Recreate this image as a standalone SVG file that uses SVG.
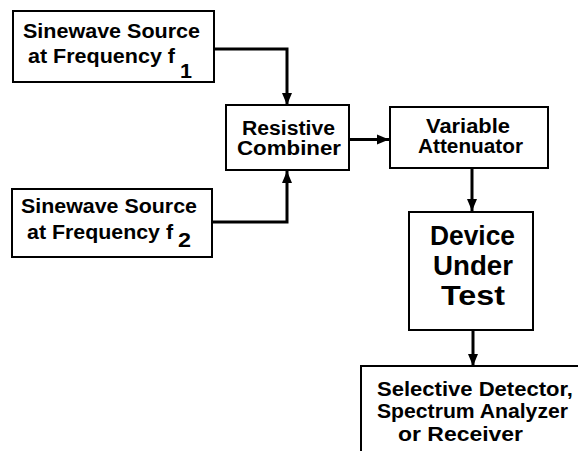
<svg xmlns="http://www.w3.org/2000/svg" width="578" height="451" viewBox="0 0 578 451">
<style>
.box{fill:#fff;stroke:#000;stroke-width:2}
.t{font-family:"Liberation Sans",Arial,sans-serif;font-weight:bold;font-size:20px;fill:#000}
.big{font-size:27px}
.sub{font-size:21px}
.c{fill:none;stroke:#000;stroke-width:3}
</style>
<defs>
<marker id="ah" markerUnits="userSpaceOnUse" markerWidth="13" markerHeight="13" viewBox="0 0 13 13" refX="12" refY="6.5" orient="auto">
<path d="M0,1.5 L12,6.5 L0,11.5 Z" fill="#000"/>
</marker>
</defs>
<rect width="578" height="451" fill="#fff"/>
<g id="connectors">
<path class="c" d="M214,49 H287 V105" marker-end="url(#ah)"/>
<path class="c" d="M212,222 H287 V171" marker-end="url(#ah)"/>
<path class="c" d="M349,139.5 H389" marker-end="url(#ah)"/>
<path class="c" d="M472,168 V211" marker-end="url(#ah)"/>
<path class="c" d="M473,330 V366" marker-end="url(#ah)"/>
</g>
<g id="src1">
<rect class="box" x="13" y="11" width="201" height="71"/>
<text class="t" x="23" y="38" textLength="177" lengthAdjust="spacingAndGlyphs">Sinewave Source</text>
<text class="t" x="28" y="63" textLength="147" lengthAdjust="spacingAndGlyphs">at Frequency f</text>
<text class="t sub" x="180" y="78" textLength="12" lengthAdjust="spacingAndGlyphs">1</text>
</g>
<g id="src2">
<rect class="box" x="12" y="189" width="200" height="68"/>
<text class="t" x="21" y="213" textLength="176" lengthAdjust="spacingAndGlyphs">Sinewave Source</text>
<text class="t" x="27" y="239" textLength="146" lengthAdjust="spacingAndGlyphs">at Frequency f</text>
<text class="t sub" x="178" y="247" textLength="13" lengthAdjust="spacingAndGlyphs">2</text>
</g>
<g id="combiner">
<rect class="box" x="226" y="105" width="123" height="65"/>
<text class="t" x="242" y="135" textLength="93" lengthAdjust="spacingAndGlyphs">Resistive</text>
<text class="t" x="237" y="155" textLength="104" lengthAdjust="spacingAndGlyphs">Combiner</text>
</g>
<g id="attenuator">
<rect class="box" x="390" y="107" width="158" height="61"/>
<text class="t" x="426" y="133" textLength="84" lengthAdjust="spacingAndGlyphs">Variable</text>
<text class="t" x="418" y="153" textLength="105" lengthAdjust="spacingAndGlyphs">Attenuator</text>
</g>
<g id="dut">
<rect class="box" x="409" y="212" width="124" height="118"/>
<text class="t big" x="430" y="245" textLength="85" lengthAdjust="spacingAndGlyphs">Device</text>
<text class="t big" x="433" y="275" textLength="80" lengthAdjust="spacingAndGlyphs">Under</text>
<text class="t big" x="441" y="305" textLength="64" lengthAdjust="spacingAndGlyphs">Test</text>
</g>
<g id="detector">
<rect class="box" x="361" y="366" width="240" height="100"/>
<text class="t" x="377" y="396" textLength="196" lengthAdjust="spacingAndGlyphs">Selective Detector,</text>
<text class="t" x="377" y="418" textLength="191" lengthAdjust="spacingAndGlyphs">Spectrum Analyzer</text>
<text class="t" x="398" y="441" textLength="125" lengthAdjust="spacingAndGlyphs">or Receiver</text>
</g>
</svg>
